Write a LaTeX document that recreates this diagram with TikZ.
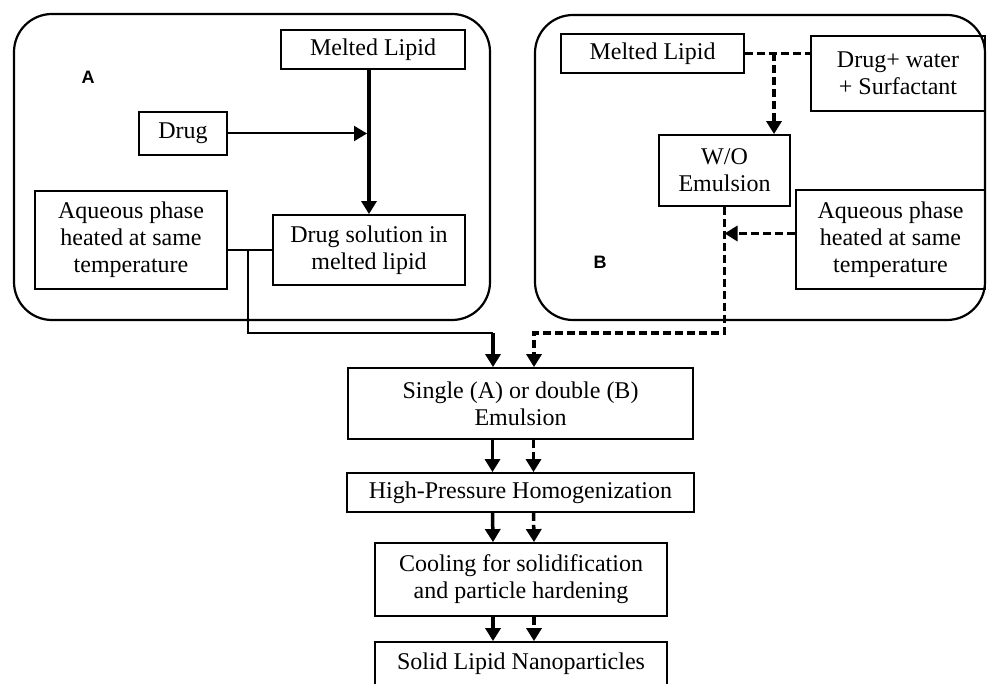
\documentclass[tikz,border=0pt]{standalone}
\usepackage{fontspec}
\setmainfont{Liberation Serif}
\newfontfamily\labelfont{Liberation Sans}
\usepackage{tikz}
\usetikzlibrary{arrows.meta, positioning, calc}

\begin{document}
\begin{tikzpicture}[x=1pt, y=-1pt,
    box/.style={draw, line width=1.8pt, align=center, inner sep=2pt, font=\fontsize{24}{27}\selectfont},
    panel/.style={draw, line width=2.2pt, rounded corners=38pt},
    tag/.style={font=\labelfont\bfseries\fontsize{18}{20}\selectfont},
    flow/.style={line width=3.5pt, -{Triangle[length=13pt, width=15pt]}},
    dflow/.style={flow, dash pattern=on 8pt off 4pt}]
    \useasboundingbox (0,0) rectangle (987,684);
    \clip (0,0) rectangle (987,684);

    % Panels
    \draw[panel] (14,14) rectangle (490,320);
    \draw[panel] (535,15) rectangle (985,320);
    \node[tag] (tagA) at (88,77) {A};
    \node[tag] (tagB) at (600,262) {B};

    % Panel A: single emulsion
    \node[box, minimum width=184pt, minimum height=39pt] (lipA) at (373,49.5) {Melted Lipid};
    \node[box, minimum width=88pt, minimum height=43pt] (drug) at (183,133.5) {Drug};
    \node[box, minimum width=192pt, minimum height=98pt] (aqA) at (131,240) {Aqueous phase\\heated at same\\temperature};
    \node[box, minimum width=192pt, minimum height=70pt] (dsol) at (369,250) {Drug solution in\\melted lipid};
    \draw[flow] (dsol.north |- lipA.south) -- (dsol.north);
    \draw[flow, line width=2pt, shorten >=2pt] (drug.east) -- (drug.east -| dsol.north);
    \draw[line width=1.3pt] (aqA.east |- dsol.west) -- (dsol.west);
    \coordinate (kA) at (248,250);
    \coordinate (jA) at (493,333);
    \draw[line width=1.3pt] (kA) |- (jA);

    % Panel B: double emulsion
    \node[box, minimum width=183pt, minimum height=39pt] (lipB) at (652.5,53.5) {Melted Lipid};
    \node[box, minimum width=174pt, minimum height=75pt] (mixB) at (898,73.5) {Drug+ water\\+ Surfactant};
    \node[box, minimum width=131pt, minimum height=71pt] (wo) at (724.5,170.5) {W/O\\Emulsion};
    \node[box, minimum width=189pt, minimum height=99pt] (aqB) at (890.5,239.5) {Aqueous phase\\heated at same\\temperature};
    \draw[dflow, -] (lipB.east) -- (lipB.east -| mixB.west);
    \coordinate (jB) at (774,53.5);
    \draw[dflow] (jB) -- (jB |- wo.north);
    \draw[dflow] ([yshift=6pt]aqB.west) -- ([yshift=6pt]aqB.west -| wo.south);
    \coordinate (kB) at (534,333);

    % Common steps
    \node[box, minimum width=345pt, minimum height=71pt] (single) at (520.5,403.5) {Single (A) or double (B)\\Emulsion};
    \node[box, minimum width=347pt, minimum height=39pt] (hpg) at (520.5,492.5) {High-Pressure Homogenization};
    \node[box, minimum width=292pt, minimum height=73pt] (cool) at (521,579.5) {Cooling for solidification\\and particle hardening};
    \node[box, minimum width=292pt, minimum height=44pt] (sln) at (521,664) {Solid Lipid Nanoparticles};

    \draw[flow] (jA) -- (jA |- single.north);
    \draw[dflow] (wo.south) |- (kB) -- (kB |- single.north);
    \foreach \a/\b in {single/hpg, hpg/cool, cool/sln} {
        \draw[flow] ([xshift=-28pt]\a.south) -- ([xshift=-28pt]\b.north);
        \draw[dflow] ([xshift=13pt]\a.south) -- ([xshift=13pt]\b.north);
    }
\end{tikzpicture}
\end{document}
